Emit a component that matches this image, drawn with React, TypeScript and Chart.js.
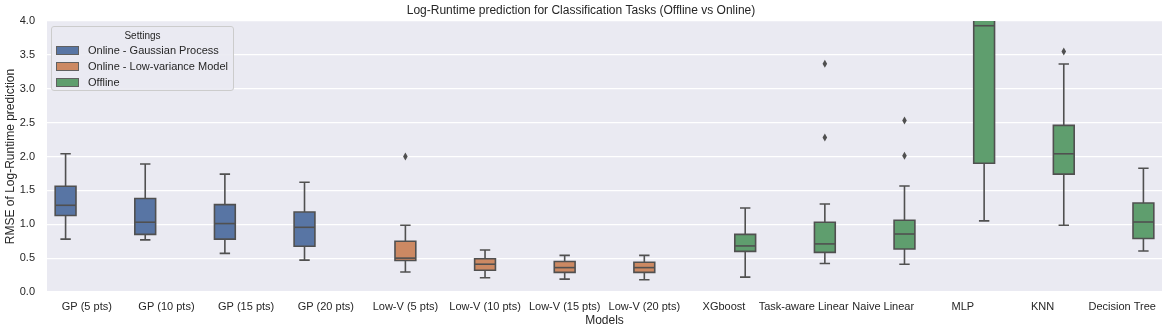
import React, { useEffect, useRef } from 'react';
import { Chart, registerables } from 'chart.js';

Chart.register(...registerables);

const categories = [
  'GP (5 pts)', 'GP (10 pts)', 'GP (15 pts)', 'GP (20 pts)',
  'Low-V (5 pts)', 'Low-V (10 pts)', 'Low-V (15 pts)', 'Low-V (20 pts)',
  'XGboost', 'Task-aware Linear', 'Naive Linear', 'MLP', 'KNN', 'Decision Tree',
];
const seriesNames = ['Online - Gaussian Process', 'Online - Low-variance Model', 'Offline'];
const seriesColors = ['#5875a4', '#cc8963', '#5f9e6e'];
const groupOf = [0, 0, 0, 0, 1, 1, 1, 1, 2, 2, 2, 2, 2, 2];

const whiskerLow = [0.78, 0.77, 0.57, 0.47, 0.295, 0.21, 0.19, 0.18, 0.22, 0.42, 0.41, 1.05, 0.985, 0.605];
const q1 = [1.13, 0.85, 0.78, 0.675, 0.465, 0.32, 0.29, 0.29, 0.6, 0.585, 0.635, 1.9, 1.74, 0.79];
const median = [1.28, 1.03, 1.01, 0.955, 0.5, 0.41, 0.36, 0.36, 0.68, 0.71, 0.856, 3.93, 2.04, 1.033];
const q3 = [1.56, 1.38, 1.29, 1.18, 0.75, 0.49, 0.45, 0.44, 0.85, 1.03, 1.06, 4.6, 2.46, 1.314];
const whiskerHigh = [2.04, 1.89, 1.74, 1.62, 0.985, 0.62, 0.54, 0.54, 1.24, 1.3, 1.565, 6.5, 3.365, 1.826];
const outliers: number[][] = [[], [], [], [], [2.0], [], [], [], [], [3.37, 2.28], [2.53, 2.01], [], [3.55], []];

const yMin = 0;
const yMax = 4;
const yStep = 0.5;

const LINE = '#505050';
const TEXT = '#262626';
const FONT = '"Liberation Sans", Arial, sans-serif';

const boxPlugin = {
  id: 'boxDetails',
  beforeDraw(chart: any) {
    const { ctx, chartArea: a } = chart;
    ctx.save();
    ctx.fillStyle = '#eaeaf2';
    ctx.fillRect(a.left, a.top, a.right - a.left, a.bottom - a.top);
    ctx.restore();
  },
  afterDatasetsDraw(chart: any) {
    const { ctx, chartArea: a } = chart;
    const y = chart.scales.y;
    ctx.save();
    ctx.beginPath();
    ctx.rect(a.left, a.top, a.right - a.left, a.bottom - a.top);
    ctx.clip();
    ctx.strokeStyle = LINE;
    ctx.fillStyle = LINE;
    ctx.lineWidth = 1.6;
    chart.data.datasets.forEach((_ds: any, d: number) => {
      const meta = chart.getDatasetMeta(d);
      meta.data.forEach((el: any, i: number) => {
        if (groupOf[i] !== d) return;
        const x = el.x;
        const w = el.width;
        const pLo = y.getPixelForValue(whiskerLow[i]);
        const pQ1 = y.getPixelForValue(q1[i]);
        const pMed = y.getPixelForValue(median[i]);
        const pQ3 = y.getPixelForValue(q3[i]);
        const pHi = y.getPixelForValue(whiskerHigh[i]);
        ctx.beginPath();
        ctx.moveTo(x, pQ1); ctx.lineTo(x, pLo);
        ctx.moveTo(x, pQ3); ctx.lineTo(x, pHi);
        ctx.moveTo(x - w / 4, pLo); ctx.lineTo(x + w / 4, pLo);
        ctx.moveTo(x - w / 4, pHi); ctx.lineTo(x + w / 4, pHi);
        ctx.stroke();
        ctx.beginPath();
        ctx.rect(x - w / 2, pQ3, w, pQ1 - pQ3);
        ctx.stroke();
        ctx.beginPath();
        ctx.moveTo(x - w / 2, pMed); ctx.lineTo(x + w / 2, pMed);
        ctx.stroke();
        outliers[i].forEach((v) => {
          const py = y.getPixelForValue(v);
          ctx.beginPath();
          ctx.moveTo(x, py - 4);
          ctx.lineTo(x + 2.3, py);
          ctx.lineTo(x, py + 4);
          ctx.lineTo(x - 2.3, py);
          ctx.closePath();
          ctx.fill();
        });
      });
    });
    ctx.restore();
  },
};

export default function App() {
  const canvasRef = useRef<HTMLCanvasElement | null>(null);

  useEffect(() => {
    if (!canvasRef.current) return;
    Chart.defaults.font.family = FONT;
    Chart.defaults.color = TEXT;
    const datasets = seriesNames.map((name, g) => ({
      label: name,
      data: categories.map((_c, i) => (groupOf[i] === g ? [q1[i], q3[i]] : null)),
      backgroundColor: seriesColors[g],
      borderWidth: 0,
      barPercentage: 0.98,
      categoryPercentage: 0.8,
    }));
    const chart = new Chart(canvasRef.current, {
      type: 'bar',
      data: { labels: categories, datasets: datasets as any },
      plugins: [boxPlugin],
      options: {
        animation: false,
        responsive: true,
        maintainAspectRatio: false,
        layout: { padding: { left: 0, right: 7, top: 0, bottom: 0 } },
        plugins: {
          legend: { display: false },
          tooltip: { enabled: false },
          title: {
            display: true,
            text: 'Log-Runtime prediction for Classification Tasks (Offline vs Online)',
            color: TEXT,
            font: { size: 12, weight: 'normal' as any, lineHeight: 1.2 },
            padding: { top: 3, bottom: 3.6 },
          },
        },
        scales: {
          x: {
            grid: { display: false, drawTicks: false },
            border: { display: false },
            ticks: { color: TEXT, font: { size: 11 }, padding: 8, maxRotation: 0, autoSkip: false },
            title: { display: true, text: 'Models', color: TEXT, font: { size: 12 }, padding: { top: 0, bottom: 5 } },
            afterFit: (s: any) => { s.height = 41; },
          },
          y: {
            min: yMin,
            max: yMax,
            grid: { color: '#ffffff', lineWidth: 1.2, drawTicks: false },
            border: { display: false },
            ticks: {
              stepSize: yStep,
              color: TEXT,
              font: { size: 11 },
              padding: 12,
              callback: (v: any) => Number(v).toFixed(1),
            },
            title: {
              display: true,
              text: 'RMSE of Log-Runtime prediction',
              color: TEXT,
              font: { size: 12 },
              padding: { top: 3, bottom: 0 },
            },
            afterFit: (s: any) => { s.width = 47; },
          },
        },
      },
    });
    return () => chart.destroy();
  }, []);

  const rowTops = [23, 39, 54.5];

  return (
    <div style={{ position: 'absolute', left: 0, top: 0, width: 1169, height: 333, fontFamily: FONT }}>
      <canvas ref={canvasRef} />
      <div
        style={{
          position: 'absolute', left: 51, top: 26, width: 181, height: 63,
          background: 'rgba(234,234,242,0.9)', border: '1px solid #cccccc', borderRadius: 3,
          color: TEXT,
        }}
      >
        <div style={{ position: 'absolute', left: 0, width: '100%', top: 2, textAlign: 'center', fontSize: 10, lineHeight: '14px' }}>
          Settings
        </div>
        {seriesNames.map((n, g) => (
          <div key={n}>
            <div
              style={{
                position: 'absolute', left: 4, top: rowTops[g] - 4, width: 21, height: 7,
                background: seriesColors[g], border: '1px solid #606060',
              }}
            />
            <div style={{ position: 'absolute', left: 36, top: rowTops[g] - 7, fontSize: 11, lineHeight: '14px', whiteSpace: 'nowrap' }}>
              {n}
            </div>
          </div>
        ))}
      </div>
    </div>
  );
}
